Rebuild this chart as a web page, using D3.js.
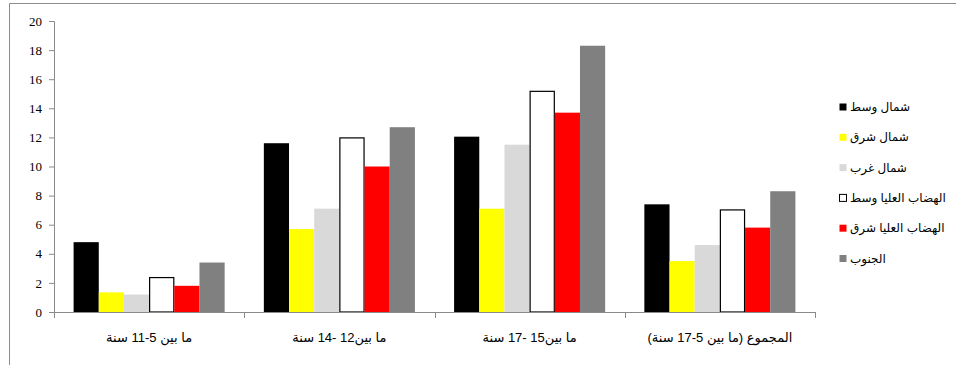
<!DOCTYPE html>
<html lang="ar">
<head>
<meta charset="utf-8">
<script src="https://cdn.jsdelivr.net/npm/d3@7"></script>
<style>
  html, body { margin: 0; padding: 0; background: #fff; }
  svg { display: block; }
</style>
</head>
<body>
<svg id="chart" width="956" height="365"></svg>
<script>
// Age groups along the x axis
const categories = [
  "ما بين 5-11 سنة",
  "ما بين12 -14 سنة",
  "ما بين15 -17 سنة",
  "المجموع (ما بين 5-17 سنة)"
];

// Regions (legend order)
const regions = [
  "شمال وسط",
  "شمال شرق",
  "شمال غرب",
  "الهضاب العليا وسط",
  "الهضاب العليا شرق",
  "الجنوب"
];

// One array per region, one value per age group
const northCentre   = [4.8, 11.6, 12.05, 7.4];
const northEast     = [1.35, 5.7, 7.1, 3.5];
const northWest     = [1.2, 7.1, 11.5, 4.6];
const plateauCentre = [2.4, 12.0, 15.2, 7.05];
const plateauEast   = [1.8, 10.0, 13.7, 5.8];
const south         = [3.4, 12.7, 18.3, 8.3];

const yTicks = [0, 2, 4, 6, 8, 10, 12, 14, 16, 18, 20];

const seriesValues = [northCentre, northEast, northWest, plateauCentre, plateauEast, south];
const fills   = ["#000000", "#ffff00", "#d9d9d9", "#ffffff", "#ff0000", "#808080"];
const strokes = [null, null, null, "#000000", null, null];

const svg = d3.select("#chart");
const axisColor = "#8a8a8a";

// Outer frame (top and left edges visible)
svg.append("path")
  .attr("d", "M9.5,370V3.5H960")
  .attr("fill", "none")
  .attr("stroke", "#8c8c8c")
  .attr("stroke-width", 1);

const plot = { left: 54, right: 815, top: 21, bottom: 312 };

const x = d3.scaleBand()
  .domain(categories)
  .range([plot.left, plot.right])
  .paddingInner(0)
  .paddingOuter(0);

const gap = x.bandwidth() * 0.103;
const xs = d3.scaleBand()
  .domain(d3.range(regions.length))
  .range([gap, x.bandwidth() - gap])
  .padding(0);

const y = d3.scaleLinear()
  .domain([0, 20])
  .range([plot.bottom, plot.top]);

// Bars
const groups = svg.append("g").selectAll("g")
  .data(categories)
  .join("g")
  .attr("transform", d => `translate(${x(d)},0)`);

groups.selectAll("rect")
  .data((d, ci) => seriesValues.map((vals, si) => ({ si, v: vals[ci] })))
  .join("rect")
  .attr("x", d => xs(d.si) + (strokes[d.si] ? 0.5 : 0))
  .attr("y", d => y(d.v) + (strokes[d.si] ? 0.5 : 0))
  .attr("width", d => xs.bandwidth() - (strokes[d.si] ? 1 : 0))
  .attr("height", d => y(0) - y(d.v) - (strokes[d.si] ? 0.5 : 0))
  .attr("fill", d => fills[d.si])
  .attr("stroke", d => strokes[d.si] || "none")
  .attr("stroke-width", 1.2);

// Y axis
const yAxis = svg.append("g")
  .attr("transform", `translate(${plot.left},0)`)
  .call(d3.axisLeft(y).tickValues(yTicks).tickSize(5).tickPadding(7).tickFormat(d3.format("d")))
  .attr("font-family", "'Liberation Serif', 'DejaVu Serif', serif")
  .attr("font-size", 13);
yAxis.select(".domain").attr("stroke", axisColor);
yAxis.selectAll(".tick line").attr("stroke", axisColor);
yAxis.selectAll(".tick text").attr("fill", "#000");

// X axis with ticks at category boundaries
const xAxis = svg.append("g")
  .attr("transform", `translate(0,${plot.bottom})`);
xAxis.append("line")
  .attr("x1", plot.left).attr("x2", plot.right)
  .attr("y1", 0.5).attr("y2", 0.5)
  .attr("stroke", axisColor);
const bounds = categories.map(c => x(c)).concat([plot.right]);
xAxis.selectAll("line.bound")
  .data(bounds)
  .join("line")
  .attr("class", "bound")
  .attr("x1", d => Math.round(d) + 0.5).attr("x2", d => Math.round(d) + 0.5)
  .attr("y1", 0).attr("y2", 6)
  .attr("stroke", axisColor);
xAxis.selectAll("text")
  .data(categories)
  .join("text")
  .attr("x", d => x(d) + x.bandwidth() / 2)
  .attr("y", 30)
  .attr("text-anchor", "middle")
  .attr("font-family", "'Liberation Sans', Arial, 'DejaVu Sans', sans-serif")
  .attr("font-size", 13)
  .text(d => d);

// Legend
const legend = svg.append("g").selectAll("g")
  .data(regions)
  .join("g")
  .attr("transform", (d, i) => `translate(839,${107 + i * 30.3})`);
legend.append("rect")
  .attr("x", 0.5).attr("y", -3.5)
  .attr("width", 7).attr("height", 7)
  .attr("fill", (d, i) => fills[i])
  .attr("stroke", (d, i) => strokes[i] || "none");
legend.append("text")
  .attr("x", 11)
  .attr("y", 4)
  .attr("font-family", "'Liberation Sans', Arial, 'DejaVu Sans', sans-serif")
  .attr("font-size", 12)
  .text(d => d);
</script>
</body>
</html>
